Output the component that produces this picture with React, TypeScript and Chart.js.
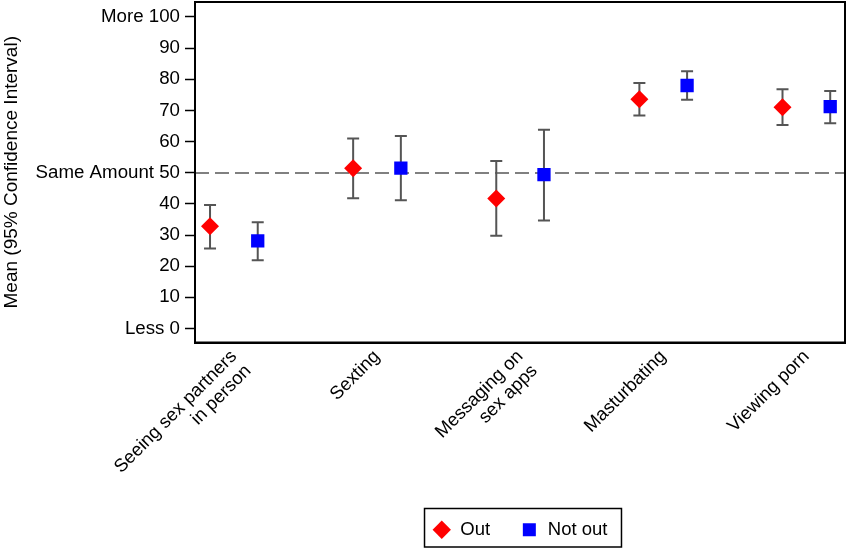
import React, { useEffect, useRef } from "react";
import { Chart, registerables } from "chart.js";

Chart.register(...registerables);

// ---- Data ----
const categories: string[][] = [
  ["Seeing sex partners", "in person"],
  ["Sexting"],
  ["Messaging on", "sex apps"],
  ["Masturbating"],
  ["Viewing porn"],
];
const seriesNames = ["Out", "Not out"];
const outMean = [32.8, 51.4, 41.7, 73.6, 71.0];
const outLow = [25.7, 41.8, 29.8, 68.4, 65.3];
const outHigh = [39.6, 61.0, 53.8, 78.8, 76.8];
const notOutMean = [28.1, 51.5, 49.4, 78.0, 71.2];
const notOutLow = [21.9, 41.2, 34.7, 73.4, 65.9];
const notOutHigh = [34.1, 61.8, 63.8, 82.6, 76.2];
const yTickValues = [0, 10, 20, 30, 40, 50, 60, 70, 80, 90, 100];
const yTickLabels = ["Less 0", "10", "20", "30", "40", "Same Amount 50", "60", "70", "80", "90", "More 100"];
const referenceValue = 50;
const yTitle = "Mean (95% Confidence Interval)";

// x positions: each category occupies 3 slots (Out, Not out, gap)
const xOut = categories.map((_, i) => 3 * i + 1);
const xNotOut = categories.map((_, i) => 3 * i + 2);
const xLabelPos = categories.map((_, i) => 3 * i + 1.5);

const FONT = "'Liberation Sans', Arial, Helvetica, sans-serif";

const errorBarPlugin = {
  id: "errorBars",
  beforeDatasetsDraw(chart: any) {
    const { ctx, chartArea, scales } = chart;
    const x = scales.x;
    const y = scales.y;
    // dashed reference line
    ctx.save();
    ctx.strokeStyle = "#808080";
    ctx.lineWidth = 2;
    ctx.setLineDash([14, 6]);
    const yr = Math.round(y.getPixelForValue(referenceValue));
    ctx.beginPath();
    ctx.moveTo(chartArea.left, yr);
    ctx.lineTo(chartArea.right, yr);
    ctx.stroke();
    ctx.restore();

    ctx.save();
    ctx.strokeStyle = "#555555";
    ctx.lineWidth = 2;
    chart.data.datasets.forEach((ds: any) => {
      ds.data.forEach((pt: any, i: number) => {
        const px = x.getPixelForValue(pt.x);
        const lo = y.getPixelForValue(ds.low[i]);
        const hi = y.getPixelForValue(ds.high[i]);
        ctx.beginPath();
        ctx.moveTo(px, lo);
        ctx.lineTo(px, hi);
        ctx.moveTo(px - 6, lo);
        ctx.lineTo(px + 6, lo);
        ctx.moveTo(px - 6, hi);
        ctx.lineTo(px + 6, hi);
        ctx.stroke();
      });
    });
    ctx.restore();
  },
  afterDraw(chart: any) {
    const { ctx, chartArea } = chart;
    ctx.save();
    ctx.strokeStyle = "#000";
    ctx.lineWidth = 2;
    ctx.strokeRect(chartArea.left, chartArea.top, chartArea.right - chartArea.left, chartArea.bottom - chartArea.top);
    // legend box
    const lg = chart.legend;
    if (lg && lg.legendHitBoxes && lg.legendHitBoxes.length) {
      const hb = lg.legendHitBoxes;
      let l = Infinity, r = -Infinity, t = Infinity, b = -Infinity;
      hb.forEach((h: any) => {
        l = Math.min(l, h.left);
        r = Math.max(r, h.left + h.width);
        t = Math.min(t, h.top);
        b = Math.max(b, h.top + h.height);
      });
      ctx.lineWidth = 1.5;
      ctx.strokeStyle = "#000";
      ctx.strokeRect(l - 8, t - 12, r - l + 22, b - t + 20);
    }
    ctx.restore();
  },
};

export default function App() {
  const ref = useRef<HTMLCanvasElement | null>(null);
  useEffect(() => {
    if (!ref.current) return;
    Chart.defaults.color = "#000";
    Chart.defaults.font.family = FONT;
    const chart = new Chart(ref.current, {
      type: "scatter",
      data: {
        datasets: [
          {
            label: seriesNames[0],
            data: outMean.map((v, i) => ({ x: xOut[i], y: v })),
            low: outLow,
            high: outHigh,
            pointStyle: "rectRot",
            pointRadius: 9,
            backgroundColor: "#ff0000",
            borderColor: "#ff0000",
            borderWidth: 0,
          } as any,
          {
            label: seriesNames[1],
            data: notOutMean.map((v, i) => ({ x: xNotOut[i], y: v })),
            low: notOutLow,
            high: notOutHigh,
            pointStyle: "rect",
            pointRadius: 9.4,
            backgroundColor: "#0000ff",
            borderColor: "#0000ff",
            borderWidth: 0,
          } as any,
        ],
      },
      options: {
        animation: false,
        responsive: true,
        maintainAspectRatio: false,
        layout: { autoPadding: false, padding: { top: 2, right: 1, bottom: 5, left: 0 } },
        plugins: {
          tooltip: { enabled: false },
          legend: {
            position: "bottom",
            fullSize: false,
            labels: {
              usePointStyle: true,
              boxHeight: 13,
              padding: 30,
              color: "#000",
              font: { size: 18.5, family: FONT },
            },
          },
        },
        scales: {
          x: {
            type: "linear",
            min: 0.685,
            max: 14.31,
            afterBuildTicks: (scale: any) => {
              scale.ticks = xLabelPos.map((v) => ({ value: v }));
            },
            afterFit: (scale: any) => {
              scale.height = 148;
              scale.paddingLeft = 0;
              scale.paddingRight = 0;
            },
            grid: { display: false, drawTicks: false },
            border: { display: true, color: "#000", width: 2 },
            ticks: {
              autoSkip: false,
              maxRotation: 45,
              minRotation: 45,
              padding: 4,
              color: "#000",
              font: { size: 18.5, family: FONT, lineHeight: 1.1 },
              callback: (value: any) => {
                const idx = xLabelPos.indexOf(Number(value));
                return idx >= 0 ? categories[idx] : "";
              },
            },
          },
          y: {
            min: -4.5,
            max: 104.8,
            afterBuildTicks: (scale: any) => {
              scale.ticks = yTickValues.map((v) => ({ value: v }));
            },
            afterFit: (scale: any) => {
              scale.width = 195;
              scale.paddingTop = 0;
              scale.paddingBottom = 0;
            },
            grid: {
              drawOnChartArea: false,
              drawTicks: true,
              tickLength: 10,
              tickColor: "#000",
              tickWidth: 1.5,
            },
            border: { display: true, color: "#000", width: 2 },
            ticks: {
              padding: 5,
              color: "#000",
              font: { size: 18.7, family: FONT },
              callback: (value: any) => {
                const idx = yTickValues.indexOf(Number(value));
                return idx >= 0 ? yTickLabels[idx] : "";
              },
            },
            title: {
              display: true,
              text: yTitle,
              color: "#000",
              padding: { top: 0, bottom: 0 },
              font: { size: 19, family: FONT },
            },
          },
        },
      } as any,
      plugins: [errorBarPlugin],
    });
    return () => chart.destroy();
  }, []);
  return (
    <div style={{ position: "fixed", left: 0, top: 0, width: 846, height: 554, background: "#fff" }}>
      <canvas ref={ref} />
    </div>
  );
}
